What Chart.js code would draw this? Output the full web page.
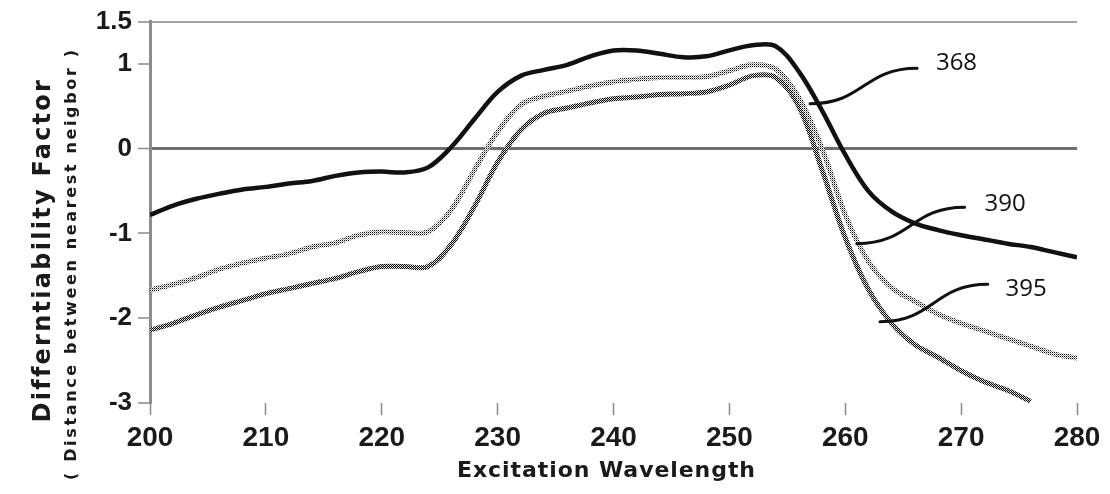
<!DOCTYPE html>
<html>
<head>
<meta charset="utf-8">
<script src="https://cdn.jsdelivr.net/npm/chart.js@4.4.1/dist/chart.umd.min.js"></script>
<style>
  html, body { margin: 0; padding: 0; background: #fff; }
  #wrap { width: 1110px; height: 494px; }
</style>
</head>
<body>
<div id="wrap"><canvas id="chart" width="1110" height="494"></canvas></div>
<script>
// excitation wavelength samples (nm)
const wavelengths = [200, 202, 204, 206, 208, 210, 212, 214, 216, 218, 220, 222, 224, 226, 228, 230, 232, 234, 236, 238, 240,
  242, 244, 246, 248, 250, 252, 254, 256, 258, 260, 262, 264, 266, 268, 270, 272, 274, 276, 278, 280];

// differentiability factor
const series368 = [-0.78, -0.67, -0.59, -0.53, -0.48, -0.45, -0.41, -0.38, -0.32, -0.28, -0.27, -0.28, -0.22, 0.02, 0.35, 0.67,
  0.86, 0.93, 0.99, 1.09, 1.16, 1.16, 1.12, 1.08, 1.09, 1.16, 1.22, 1.21, 0.91, 0.45, -0.07, -0.50, -0.74, -0.88, -0.96, -1.02,
  -1.07, -1.12, -1.16, -1.22, -1.28];
const series390 = [-1.67, -1.60, -1.52, -1.42, -1.35, -1.29, -1.24, -1.16, -1.11, -1.02, -0.98, -0.99, -0.98, -0.72, -0.25, 0.20,
  0.52, 0.62, 0.68, 0.74, 0.79, 0.82, 0.84, 0.84, 0.85, 0.92, 0.99, 0.94, 0.60, 0.00, -0.78, -1.33, -1.64, -1.80, -1.95, -2.06,
  -2.15, -2.24, -2.33, -2.42, -2.47];
const series395 = [-2.14, -2.06, -1.96, -1.87, -1.79, -1.71, -1.65, -1.59, -1.53, -1.45, -1.39, -1.39, -1.39, -1.13, -0.68, -0.16,
  0.22, 0.42, 0.48, 0.54, 0.59, 0.61, 0.64, 0.65, 0.67, 0.75, 0.86, 0.84, 0.50, -0.25, -1.05, -1.66, -2.06, -2.31, -2.46, -2.62,
  -2.75, -2.85, -2.98, null, null];

const seriesNames = ["368", "390", "395"];
const xTickValues = [200, 210, 220, 230, 240, 250, 260, 270, 280];
const yTickValues = [1.5, 1, 0, -1, -2, -3];
const yTickLabels = ["1.5", "1", "0", "-1", "-2", "-3"];

const yTitle = "Differntiability Factor";
const ySubTitle = "( Distance between nearest neigbor )";
const xTitle = "Excitation Wavelength";

// callout leaders, in data units: start (wl, value) -> end (wl, value), label at (wl, value)
const calloutStart = [[256.96, 0.53], [261.0, -1.12], [263.0, -2.04]];
const calloutEnd = [[266.2, 0.95], [270.3, -0.69], [272.3, -1.60]];
const calloutText = [[269.6, 1.01], [273.8, -0.65], [275.6, -1.66]];

// small dithered pattern so the grey curves look like the scanned figure
function dither(cells, size) {
  const c = document.createElement("canvas");
  c.width = size; c.height = size;
  const g = c.getContext("2d");
  g.fillStyle = "#fff";
  g.fillRect(0, 0, size, size);
  cells.forEach(([x, y, col]) => { g.fillStyle = col; g.fillRect(x, y, 1, 1); });
  return g.createPattern(c, "repeat");
}

const ctx = document.getElementById("chart").getContext("2d");
const light = dither([[0, 0, "#000"], [1, 1, "#999"]], 2);
const medium = dither([[0, 0, "#000"], [1, 1, "#000"], [1, 0, "#bbb"]], 2);

function toPoints(values) {
  return wavelengths.map((w, i) => ({ x: w, y: values[i] }));
}

// draw text spread to a given span, like the stretched bitmap font
function spacedText(g, text, cx, cy, span) {
  g.letterSpacing = "0px";
  const w = g.measureText(text).width;
  const gap = (span - w) / (text.length - 1);
  g.letterSpacing = gap + "px";
  g.textAlign = "left";
  g.textBaseline = "middle";
  g.fillText(text, cx - span / 2, cy);
  g.letterSpacing = "0px";
}

const extrasPlugin = {
  id: "extras",
  afterDraw(chart) {
    const g = chart.ctx;
    const xs = chart.scales.x, ys = chart.scales.y;
    g.save();
    g.fillStyle = "#1a1a1a";

    // y axis titles (rotated)
    g.save();
    g.translate(44, 252);
    g.rotate(-Math.PI / 2);
    g.font = "bold 24px 'DejaVu Sans'";
    spacedText(g, yTitle, 0, 0, 341);
    g.restore();

    g.save();
    g.translate(72, 265);
    g.rotate(-Math.PI / 2);
    g.font = "bold 16px 'DejaVu Sans'";
    spacedText(g, ySubTitle, 0, 0, 430);
    g.restore();

    // x axis title
    g.font = "bold 22px 'DejaVu Sans'";
    spacedText(g, xTitle, 606, 471, 298);

    // callout leaders + labels
    g.strokeStyle = "#111";
    g.lineWidth = 3;
    g.lineCap = "round";
    seriesNames.forEach((name, i) => {
      const sx = xs.getPixelForValue(calloutStart[i][0]), sy = ys.getPixelForValue(calloutStart[i][1]);
      const ex = xs.getPixelForValue(calloutEnd[i][0]), ey = ys.getPixelForValue(calloutEnd[i][1]);
      const mx = (sx + ex) / 2;
      g.beginPath();
      g.moveTo(sx, sy);
      g.bezierCurveTo(mx, sy, mx, ey, ex, ey);
      g.stroke();
      g.font = "24px 'Open Sans'";
      g.textAlign = "center";
      g.textBaseline = "middle";
      g.fillStyle = "#111";
      g.fillText(name, xs.getPixelForValue(calloutText[i][0]), ys.getPixelForValue(calloutText[i][1]));
    });
    g.restore();
  }
};

new Chart(ctx, {
  type: "line",
  data: {
    datasets: [
      {
        label: seriesNames[0],
        data: toPoints(series368),
        borderColor: "#111",
        borderWidth: 4.5,
        pointRadius: 0,
        tension: 0.35,
        fill: false,
      },
      {
        label: seriesNames[1],
        data: toPoints(series390),
        borderColor: light,
        borderWidth: 5,
        pointRadius: 0,
        tension: 0.35,
        fill: false,
      },
      {
        label: seriesNames[2],
        data: toPoints(series395),
        borderColor: medium,
        borderWidth: 5,
        pointRadius: 0,
        tension: 0.35,
        fill: false,
        spanGaps: false,
      },
    ],
  },
  options: {
    responsive: false,
    animation: false,
    devicePixelRatio: 1,
    layout: { padding: { top: 20, right: 33, left: 0, bottom: 0 } },
    plugins: {
      legend: { display: false },
      tooltip: { enabled: false },
    },
    scales: {
      x: {
        type: "linear",
        min: 200,
        max: 280,
        afterBuildTicks: (scale) => { scale.ticks = xTickValues.map(v => ({ value: v })); },
        afterFit: (scale) => { scale.height = 91; },
        ticks: {
          color: "#1a1a1a",
          font: { family: "'Liberation Sans'", size: 28, weight: "bold" },
          padding: 6,
          maxRotation: 0,
          autoSkip: false,
        },
        grid: {
          drawOnChartArea: false,
          drawTicks: true,
          tickLength: 12,
          tickColor: "#8a8a8a",
          tickWidth: 1.5,
        },
        border: { display: false },
        title: { display: false },
      },
      y: {
        type: "linear",
        min: -3,
        max: 1.5,
        afterBuildTicks: (scale) => { scale.ticks = yTickValues.map(v => ({ value: v })); },
        afterFit: (scale) => { scale.width = 150; },
        ticks: {
          color: "#1a1a1a",
          font: { family: "'Liberation Sans'", size: 26, weight: "bold" },
          padding: 6,
          callback: (v) => yTickLabels[yTickValues.indexOf(v)],
        },
        grid: {
          color: (c) => c.tick.value === 0 ? "#6e6e6e" : c.tick.value === 1.5 ? "#a6a6a6" : "rgba(0,0,0,0)",
          lineWidth: (c) => c.tick.value === 0 ? 3 : 2,
          drawTicks: true,
          tickLength: 12,
          tickColor: "#8a8a8a",
          tickWidth: 1.5,
        },
        border: { display: true, color: "#8c8c8c", width: 3 },
        title: { display: false },
      },
    },
  },
  plugins: [extrasPlugin],
});
</script>
</body>
</html>
